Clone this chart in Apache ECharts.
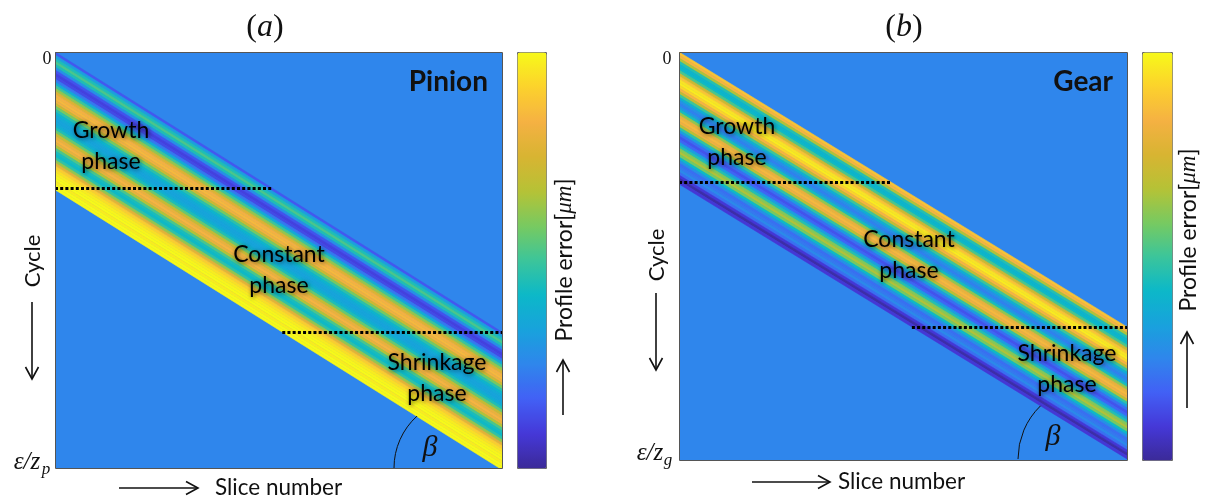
<!DOCTYPE html>
<html>
<head>
<meta charset="utf-8">
<script src="https://cdn.jsdelivr.net/npm/echarts@6/dist/echarts.min.js"></script>
<style>
  html, body { margin: 0; padding: 0; background: #fff; }
  #chart { width: 1207px; height: 500px; }
</style>
</head>
<body>
<div id="chart"></div>
<script>
// cross-section of the error band, one value per cycle from its upper edge down to its lower edge (0..1 of colour range)
const pinionProfile = [0.15, 0.32, 0.45, 0.52, 0.45, 0.28, 0.14, 0.10, 0.12, 0.22, 0.36, 0.50, 0.62, 0.76, 0.83, 0.85,
  0.82, 0.72, 0.58, 0.47, 0.40, 0.36, 0.34, 0.35, 0.38, 0.45, 0.56, 0.70, 0.80, 0.84, 0.80, 0.66, 0.52, 0.44, 0.42,
  0.48, 0.62, 0.78, 0.90, 0.94, 0.97, 0.99, 1.00, 0.97, 1.00, 1.00];
const gearProfile = [0.88, 0.84, 0.66, 0.46, 0.40, 0.42, 0.52, 0.72, 0.88, 0.95, 0.97, 0.92, 0.84, 0.70, 0.50, 0.38,
  0.28, 0.24, 0.30, 0.44, 0.62, 0.80, 0.85, 0.82, 0.68, 0.48, 0.32, 0.20, 0.14, 0.18, 0.32, 0.46, 0.60, 0.66, 0.58,
  0.42, 0.28, 0.20, 0.22, 0.26, 0.20, 0.08, 0.02, 0.08];
// slices x cycles
const pinionSize = [149, 139];
const gearSize = [149, 136];
// cycles the band moves down per slice
const pinionSlope = 0.628;
const gearSlope = 0.615;
const backgroundValue = 0.25;

const parula = ['#3b2a98', '#4538d8', '#4260f5', '#2f86ec', '#18a2dc', '#0cb8c8', '#3cc59a',
  '#78ca60', '#b6c236', '#d8b432', '#f5b143', '#fcd22c', '#f7f91a'];
const bgColor = parula[Math.round(backgroundValue * (parula.length - 1))];

function stripes(profile) {
  return profile.map(function (v, k) { return [k, v]; });
}

// one parallelogram per cycle offset of the band, running across all slices
function bandItem(size, slope) {
  return function (params, api) {
    const k = api.value(0);
    const w = size[0];
    const color = api.visual('color');
    return {
      type: 'polygon',
      shape: { points: [api.coord([0, k]), api.coord([w, k + slope * w]), api.coord([w, k + 1 + slope * w]), api.coord([0, k + 1])] },
      style: { fill: color, stroke: color, lineWidth: 0.6 }
    };
  };
}

// dotted lines where the band stops growing / starts shrinking
function phaseLines(size, slope, profile) {
  const t = profile.length - 0.5;
  const exitRow = slope * size[0];
  return [
    [{ coord: [0, t] }, { coord: [t / slope, t] }],
    [{ coord: [(exitRow - profile.length) / slope, exitRow] }, { coord: [size[0], exitRow] }]
  ];
}

const sans = 'Lato, "Open Sans", sans-serif';
const serif = '"Liberation Serif", "DejaVu Serif", serif';

function txt(x, y, text, font, align, extra) {
  return Object.assign({
    type: 'text', x: x, y: y, z: 100,
    style: { text: text, font: font, fill: '#111', align: align || 'center', verticalAlign: 'middle' }
  }, extra || {});
}

function panelTitle(x, y, letter) {
  return {
    type: 'text', x: x, y: y, z: 100,
    style: {
      text: '{p|(}{i|' + letter + '}{p|)}', align: 'center', verticalAlign: 'middle',
      rich: { p: { font: '32px ' + serif, fill: '#111' }, i: { font: 'italic 32px ' + serif, fill: '#111' } }
    }
  };
}

function phaseText(x, y, text) {
  return {
    type: 'text', x: x, y: y, z: 100,
    style: {
      text: text, font: '23px ' + sans, fill: '#000', align: 'center', verticalAlign: 'middle',
      lineHeight: 31, textShadowColor: 'rgba(0,0,0,0.55)', textShadowBlur: 4,
      textShadowOffsetX: 1, textShadowOffsetY: 1
    }
  };
}

function arrow(x1, y1, x2, y2) {
  const dx = x2 - x1, dy = y2 - y1;
  const len = Math.sqrt(dx * dx + dy * dy);
  const ux = dx / len, uy = dy / len;
  const h = 12, w = 6.5;
  return {
    type: 'group', z: 100,
    children: [
      { type: 'line', shape: { x1: x1, y1: y1, x2: x2, y2: y2 }, style: { stroke: '#111', lineWidth: 1.6 } },
      {
        type: 'polyline',
        shape: { points: [[x2 - ux * h - uy * w, y2 - uy * h + ux * w], [x2, y2], [x2 - ux * h + uy * w, y2 - uy * h - ux * w]] },
        style: { stroke: '#111', lineWidth: 1.6, fill: null }
      }
    ]
  };
}

function frame(x, y, w, h) {
  return { type: 'rect', z: 100, shape: { x: x + 0.5, y: y + 0.5, width: w, height: h }, style: { fill: null, stroke: '#555', lineWidth: 1 } };
}

function angleArc(cx, cy, r, end) {
  return { type: 'arc', z: 100, shape: { cx: cx, cy: cy, r: r, startAngle: Math.PI, endAngle: end, clockwise: true }, style: { stroke: '#111', lineWidth: 1, fill: null } };
}

function errorLabel(x, y) {
  return {
    type: 'text', x: x, y: y, rotation: Math.PI / 2, z: 100,
    style: {
      text: '{n|Profile error[}{m|μm}{n|]}', align: 'center', verticalAlign: 'middle',
      rich: { n: { font: '23px ' + sans, fill: '#111' }, m: { font: 'italic 23px ' + serif, fill: '#111' } }
    }
  };
}

const markLineStyle = {
  silent: true, animation: false, symbol: ['none', 'none'], label: { show: false },
  lineStyle: { color: '#000', width: 3, type: [3, 2.2], cap: 'butt' }
};

const chart = echarts.init(document.getElementById('chart'));
chart.setOption({
  animation: false,
  grid: [
    { left: 55, top: 52, width: 447, height: 416, show: true, backgroundColor: bgColor, borderWidth: 0 },
    { left: 679, top: 52, width: 448, height: 408, show: true, backgroundColor: bgColor, borderWidth: 0 }
  ],
  xAxis: [
    { type: 'value', gridIndex: 0, min: 0, max: pinionSize[0], show: false },
    { type: 'value', gridIndex: 1, min: 0, max: gearSize[0], show: false }
  ],
  yAxis: [
    { type: 'value', gridIndex: 0, min: 0, max: pinionSize[1], inverse: true, show: false },
    { type: 'value', gridIndex: 1, min: 0, max: gearSize[1], inverse: true, show: false }
  ],
  visualMap: [
    {
      type: 'continuous', seriesIndex: 0, dimension: 1, min: 0, max: 1, inRange: { color: parula },
      left: 517, top: 52, itemWidth: 29, itemHeight: 416, padding: 0, calculable: false,
      hoverLink: false, borderColor: '#666', borderWidth: 1
    },
    {
      type: 'continuous', seriesIndex: 1, dimension: 1, min: 0, max: 1, inRange: { color: parula },
      left: 1142, top: 52, itemWidth: 30, itemHeight: 408, padding: 0, calculable: false,
      hoverLink: false, borderColor: '#666', borderWidth: 1
    }
  ],
  series: [
    {
      name: 'Pinion', type: 'custom', xAxisIndex: 0, yAxisIndex: 0, clip: true, silent: true,
      data: stripes(pinionProfile), renderItem: bandItem(pinionSize, pinionSlope),
      markLine: Object.assign({ data: phaseLines(pinionSize, pinionSlope, pinionProfile) }, markLineStyle)
    },
    {
      name: 'Gear', type: 'custom', xAxisIndex: 1, yAxisIndex: 1, clip: true, silent: true,
      data: stripes(gearProfile), renderItem: bandItem(gearSize, gearSlope),
      markLine: Object.assign({ data: phaseLines(gearSize, gearSlope, gearProfile) }, markLineStyle)
    }
  ],
  graphic: [
    frame(55, 52, 447, 416),
    frame(679, 52, 448, 408),
    panelTitle(265, 28, 'a'),
    panelTitle(904, 28, 'b'),
    txt(488, 82, 'Pinion', 'bold 28px ' + sans, 'right'),
    txt(1113, 82, 'Gear', 'bold 28px ' + sans, 'right'),
    phaseText(111, 146, 'Growth\nphase'),
    phaseText(279, 270, 'Constant\nphase'),
    phaseText(437, 378, 'Shrinkage\nphase'),
    phaseText(737, 142, 'Growth\nphase'),
    phaseText(909, 255, 'Constant\nphase'),
    phaseText(1067, 369, 'Shrinkage\nphase'),
    txt(47, 59, '0', '18px ' + serif),
    txt(667, 59, '0', '18px ' + serif),
    txt(27, 462, 'ε/z', 'italic 25px ' + serif),
    txt(46, 470, 'p', 'italic 17px ' + serif),
    txt(650, 453, 'ε/z', 'italic 25px ' + serif),
    txt(668, 461, 'g', 'italic 17px ' + serif),
    txt(33, 261, 'Cycle', '22px ' + sans, 'center', { rotation: Math.PI / 2 }),
    arrow(32, 302, 32, 379),
    txt(657, 255, 'Cycle', '22px ' + sans, 'center', { rotation: Math.PI / 2 }),
    arrow(656, 293, 656, 370),
    arrow(119, 488, 198, 488),
    txt(215, 488, 'Slice number', '22.5px ' + sans, 'left'),
    arrow(752, 482, 830, 482),
    txt(838, 482, 'Slice number', '22.5px ' + sans, 'left'),
    errorLabel(565, 260),
    arrow(563, 415, 563, 360),
    errorLabel(1189, 230),
    arrow(1187, 408, 1187, 332),
    angleArc(464, 468, 70, 3.978),
    angleArc(1092, 459, 74, 3.943),
    txt(430, 448, 'β', 'italic 30px ' + serif),
    txt(1053, 437, 'β', 'italic 30px ' + serif)
  ]
});
</script>
</body>
</html>
